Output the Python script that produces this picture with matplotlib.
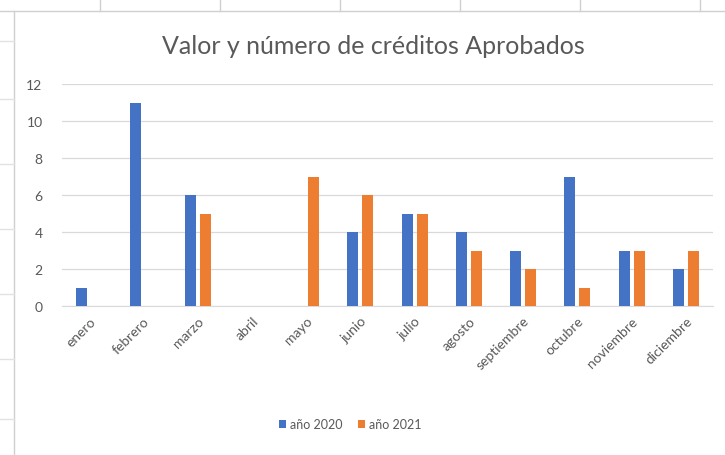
import matplotlib.pyplot as plt
import numpy as np
from matplotlib.lines import Line2D

plt.rcParams['font.family'] = ['Lato', 'DejaVu Sans']

meses = ['enero', 'febrero', 'marzo', 'abril', 'mayo', 'junio', 'julio',
         'agosto', 'septiembre', 'octubre', 'noviembre', 'diciembre']
creditos_2020 = [1, 11, 6, 0, 0, 4, 5, 4, 3, 7, 3, 2]
creditos_2021 = [0, 0, 5, 0, 7, 6, 5, 3, 2, 1, 3, 3]
yticks = [0, 2, 4, 6, 8, 10, 12]

azul = '#4472C4'
naranja = '#ED7D31'
gris = '#595959'

fig = plt.figure(figsize=(7.25, 4.56), dpi=100)
fig.patch.set_facecolor('white')

# lineas de la hoja de calculo alrededor del grafico
W, H = 725, 456
def px(x, y):
    return x / W, 1 - y / H
def linea(xa, ya, xb, yb, color='#d0d0d0'):
    x0, y0 = px(xa, ya)
    x1, y1 = px(xb, yb)
    fig.add_artist(Line2D([x0, x1], [y0, y1], color=color, lw=1))

for xc in [100, 220, 340, 460, 580, 700]:
    linea(xc, 0, xc, 12)
linea(0, 12, 725, 12)
linea(14, 12, 14, 456)
for yc in [42, 100, 165, 230, 295, 360, 420]:
    linea(0, yc, 14, yc, color='#e2e2e2')

ax = fig.add_axes([62 / W, 1 - 307 / H, (713 - 62) / W, (307 - 85) / H])
x = np.arange(len(meses))
ancho = 0.2
sep = 0.138
ax.bar(x - sep, creditos_2020, ancho, color=azul, label='año 2020', zorder=3)
ax.bar(x + sep, creditos_2021, ancho, color=naranja, label='año 2021', zorder=3)

ax.set_xlim(-0.5, len(meses) - 0.5)
ax.set_ylim(0, 12)
ax.set_yticks(yticks)
ax.set_yticklabels([str(v) for v in yticks], color=gris, fontsize=10)
ax.set_xticks(x)
ax.set_xticklabels(meses, rotation=45, ha='right', rotation_mode='anchor',
                   color=gris, fontsize=10)
ax.tick_params(axis='both', length=0)
ax.tick_params(axis='y', pad=14)
ax.tick_params(axis='x', pad=6)
ax.grid(axis='y', color='#d9d9d9', lw=0.9, zorder=0)
for s in ['top', 'right', 'left']:
    ax.spines[s].set_visible(False)
ax.spines['bottom'].set_color('#d9d9d9')

fig.text(373 / W, 1 - 47 / H, 'Valor y número de créditos Aprobados',
         ha='center', va='center', fontsize=18, color=gris)

ax.legend(loc='center', bbox_to_anchor=(350 / W, 1 - 425 / H),
          bbox_transform=fig.transFigure, ncol=2, frameon=False,
          fontsize=9, handlelength=0.6, handleheight=0.6,
          handletextpad=0.3, columnspacing=1.2, labelcolor=gris)

fig.savefig('out.png', dpi=100, facecolor='white')
